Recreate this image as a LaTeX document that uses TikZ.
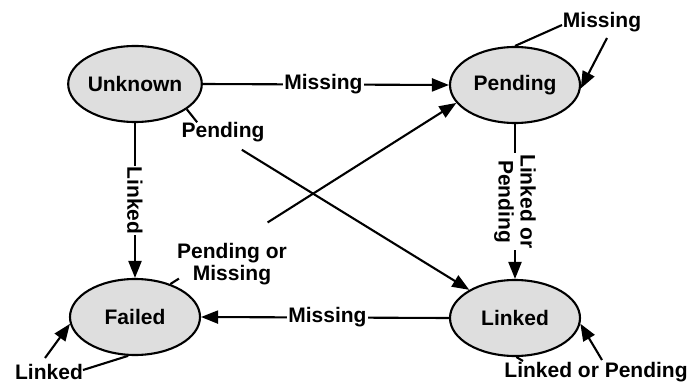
\documentclass[tikz,border=0pt]{standalone}
\usepackage{fontspec}
\setmainfont{Liberation Sans}
\usetikzlibrary{shapes.geometric,arrows.meta}
\begin{document}
\begin{tikzpicture}[x=1pt,y=-1pt,
  state/.style={ellipse,draw=black,line width=2.1pt,fill=black!13,minimum width=130pt,minimum height=76pt,inner sep=0pt,font=\fontsize{21}{23}\selectfont\bfseries},
  lbl/.style={font=\fontsize{21}{22}\selectfont\bfseries,inner sep=1pt,fill=white,align=center},
  ln/.style={line width=2.1pt},
  arr/.style={line width=2.1pt,-{Triangle[length=17pt,width=13pt]}}]
\useasboundingbox (0,0) rectangle (687,385);
\node[state] (U) at (135,84) {Unknown};
\node[state] (P) at (515,85) {Pending};
\node[state] (F) at (135,317) {Failed};
\node[state] (L) at (515,318) {Linked};
% Unknown -> Pending
\draw[arr] (U.east) -- node[lbl,pos=0.49] {Missing} (P.west);
% Linked -> Failed
\draw[arr] (L.west) -- node[lbl,pos=0.49] {Missing} (F.east);
% Unknown -> Failed
\draw[arr] (U.south) -- node[lbl,rotate=-90] {Linked} (F.north);
% Pending -> Linked
\draw[arr] (P.south) -- node[lbl,rotate=-90,pos=0.5] {Linked or\\Pending} (L.north);
% Unknown -> Linked
\path (U) -- (L) coordinate[pos=0.055] (ul1) coordinate[pos=0.21] (ul2);
\draw[ln] (U.-26.5) -- (ul1);
\draw[arr] (ul2) -- (L);
\node[lbl,fill=none] (uPend) at (223,132) {Pending};
% Failed -> Pending
\path (F.43) -- (P.197) coordinate[pos=0.03] (fp1) coordinate[pos=0.34] (fp2);
\draw[ln] (F.43) -- (fp1);
\draw[arr] (fp2) -- (P.197);
\node[lbl,fill=none] (fpl) at (232,264) {Pending or\\Missing};
% Pending self loop
\node[lbl,fill=none] (pm) at (602,22) {Missing};
\coordinate (pm1) at (562,25);
\coordinate (pm2) at (607,38);
\draw[ln] (P.north) -- (pm1);
\draw[arr] (pm2) -- (P.-3);
% Failed self loop
\node[lbl,fill=none] (fl) at (49,372) {Linked};
\coordinate (fl1) at (83,370);
\coordinate (fl2) at (45,358);
\draw[ln] (F.-100) -- (fl1);
\draw[arr] (fl2) -- (F.186);
% Linked self loop
\node[lbl,fill=none] (ll) at (596,372) {Linked or Pending};
\coordinate (ll1) at (523,361);
\coordinate (ll2) at (602,360);
\draw[ln] (L.-88) -- (ll1);
\draw[arr] (ll2) -- (L.-5);
\end{tikzpicture}
\end{document}
